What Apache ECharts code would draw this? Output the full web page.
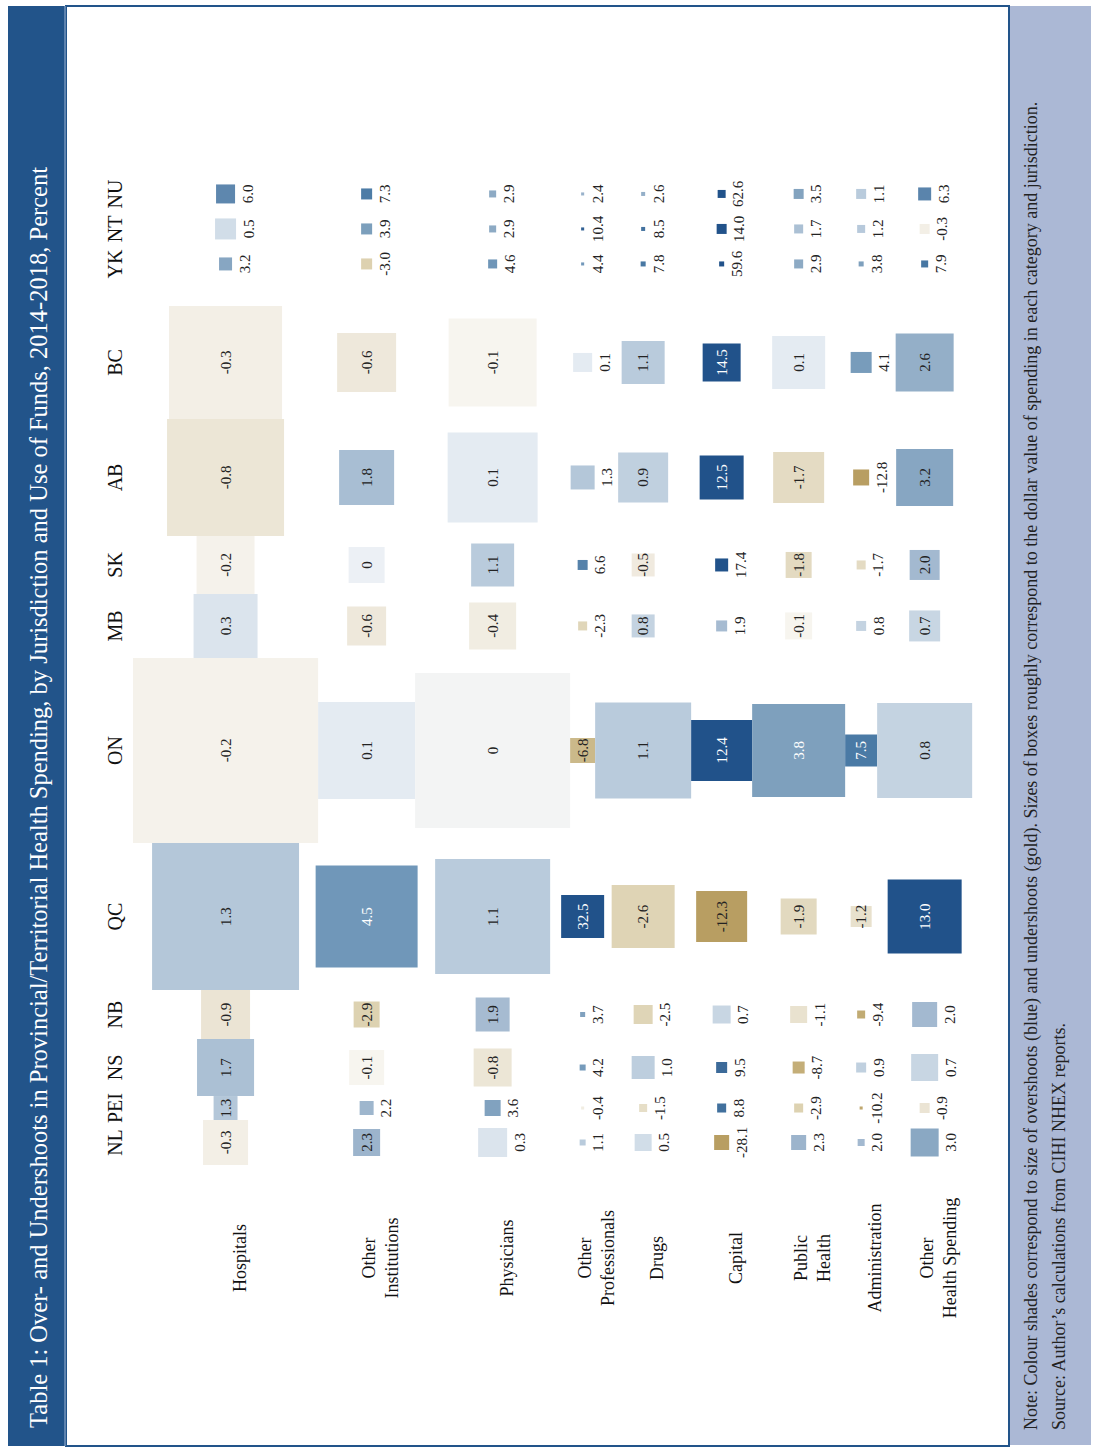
<!DOCTYPE html>
<html>
<head>
<meta charset="utf-8">
<title>Over- and Undershoots in Provincial/Territorial Health Spending</title>
<script src="https://cdn.jsdelivr.net/npm/echarts@6/dist/echarts.min.js"></script>
<style>
  html, body { margin: 0; padding: 0; background: #fff; }
  body { width: 1098px; height: 1452px; overflow: hidden; position: relative; }
  /* the table is laid out landscape and turned a quarter turn to the left */
  #chart {
    position: absolute; left: 0; top: 0;
    width: 1452px; height: 1098px;
    transform-origin: 0 0;
    transform: translate(0, 1452px) rotate(-90deg);
  }
</style>
</head>
<body>
<div id="chart"></div>
<script>
const jurisdictions = ['NL', 'PEI', 'NS', 'NB', 'QC', 'ON', 'MB', 'SK', 'AB', 'BC', 'YK', 'NT', 'NU']
const territories = ['YK', 'NT', 'NU']
const categories = ['Hospitals', 'Other\nInstitutions', 'Physicians', 'Other\nProfessionals', 'Drugs',
  'Capital', 'Public\nHealth', 'Administration', 'Other\nHealth Spending']

// over- (+) / undershoot (-), percent, in jurisdiction order
const pctHospitals = [-0.3, 1.3, 1.7, -0.9, 1.3, -0.2, 0.3, -0.2, -0.8, -0.3, 3.2, 0.5, 6.0]
const pctOtherInst = [2.3, 2.2, -0.1, -2.9, 4.5, 0.1, -0.6, 0.04, 1.8, -0.6, -3.0, 3.9, 7.3]
const pctPhysicians = [0.3, 3.6, -0.8, 1.9, 1.1, -0.04, -0.4, 1.1, 0.1, -0.1, 4.6, 2.9, 2.9]
const pctOtherProf = [1.1, -0.4, 4.2, 3.7, 32.5, -6.8, -2.3, 6.6, 1.3, 0.1, 4.4, 10.4, 2.4]
const pctDrugs = [0.5, -1.5, 1.0, -2.5, -2.6, 1.1, 0.8, -0.5, 0.9, 1.1, 7.8, 8.5, 2.6]
const pctCapital = [-28.1, 8.8, 9.5, 0.7, -12.3, 12.4, 1.9, 17.4, 12.5, 14.5, 59.6, 14.0, 62.6]
const pctPublicHealth = [2.3, -2.9, -8.7, -1.1, -1.9, 3.8, -0.1, -1.8, -1.7, 0.1, 2.9, 1.7, 3.5]
const pctAdmin = [2.0, -10.2, 0.9, -9.4, -1.2, 7.5, 0.8, -1.7, -12.8, 4.1, 3.8, 1.2, 1.1]
const pctOtherHealth = [3.0, -0.9, 0.7, 2.0, 13.0, 0.8, 0.7, 2.0, 3.2, 2.6, 7.9, -0.3, 6.3]

// approximate spending, $ millions (box area follows it)
const spendHospitals = [1520, 430, 2440, 1800, 16200, 25700, 3070, 2520, 10270, 9580, 127, 331, 271]
const spendOtherInst = [547, 147, 919, 507, 7800, 7060, 1140, 972, 2270, 2610, 91, 91, 91]
const spendPhysicians = [631, 192, 1083, 867, 9920, 18020, 1657, 1387, 6075, 5808, 61, 37, 37]
const spendOtherProf = [27, 7, 27, 19, 1387, 469, 61, 75, 432, 271, 7, 7, 7]
const spendDrugs = [217, 48, 397, 271, 2977, 6912, 397, 397, 1875, 1387, 19, 12, 12]
const spendCapital = [169, 61, 91, 243, 1951, 2791, 91, 127, 1452, 1083, 19, 75, 48]
const spendPublicHealth = [169, 61, 108, 217, 972, 6487, 547, 507, 1951, 2107, 61, 61, 75]
const spendAdmin = [37, 7, 75, 48, 331, 768, 75, 61, 192, 331, 19, 48, 75]
const spendOtherHealth = [588, 75, 547, 469, 4107, 6769, 721, 675, 2437, 2523, 37, 75, 127]

const pct = [pctHospitals, pctOtherInst, pctPhysicians, pctOtherProf, pctDrugs,
  pctCapital, pctPublicHealth, pctAdmin, pctOtherHealth]
const spend = [spendHospitals, spendOtherInst, spendPhysicians, spendOtherProf, spendDrugs,
  spendCapital, spendPublicHealth, spendAdmin, spendOtherHealth]

const title = 'Table 1: Over- and Undershoots in Provincial/Territorial Health Spending, by Jurisdiction and Use of Funds, 2014-2018, Percent'
const note = 'Note: Colour shades correspond to size of overshoots (blue) and undershoots (gold). Sizes of boxes roughly correspond to the dollar value of spending in each category and jurisdiction.'
const source = 'Source: Author\u2019s calculations from CIHI NHEX reports.'

const FONT = "'Liberation Serif', 'DejaVu Serif', serif"
const PX_PER_MILLION = 0.75 // box area: $0.75M per square pixel
const sideOf = (s) => Math.sqrt(s / PX_PER_MILLION)

// shade scale: gold for undershoots, blue for overshoots
const shadeStops = [
  [-12, '#b89e62'], [-8.7, '#c4ae78'], [-6.8, '#cbb98a'], [-2.9, '#ddd2b1'], [-1.9, '#e2d9bf'],
  [-1.1, '#e9e2cf'], [-0.6, '#eee8db'], [-0.3, '#f3efe6'], [-0.1, '#f7f5ef'], [0, '#f1f4f7'],
  [0.1, '#e4ebf2'], [0.3, '#dbe4ed'], [0.5, '#d1dde8'], [0.8, '#c4d3e1'], [1.1, '#b9cbdc'],
  [1.7, '#abc0d4'], [2.0, '#a3b9d0'], [3.0, '#8aa8c3'], [3.8, '#7ea0bd'], [4.5, '#7097b9'],
  [6.0, '#5e87ae'], [7.5, '#4a7aa5'], [9.5, '#3c6a99'], [12, '#21528a'],
]
function shade (v) {
  if (v <= shadeStops[0][0]) return shadeStops[0][1]
  for (let i = 1; i < shadeStops.length; i++) {
    const [a, ca] = shadeStops[i - 1]
    const [b, cb] = shadeStops[i]
    if (v <= b) return echarts.color.lerp((v - a) / (b - a), [ca, cb])
  }
  return shadeStops[shadeStops.length - 1][1]
}
const fmt = (v) => (Math.abs(v) < 0.05 ? '0' : v.toFixed(1))

// label goes inside the box when it fits, with a few hand exceptions
const LABEL_MIN_SIDE = 22
const labelOutside = ['NL-2', 'NL-8', 'NB-8', 'NS-8', 'NS-4', 'AB-3']
const labelInside = ['QC-7']

// rows: provinces sit side by side, each as wide as its hospital box; territories at a fixed pitch
const rowPos = []
let edge = 287
jurisdictions.forEach((j, r) => {
  if (territories.includes(j)) return
  const w = sideOf(spendHospitals[r])
  rowPos[r] = edge + w / 2
  edge += w
})
let tPos = edge + 42
jurisdictions.forEach((j, r) => {
  if (!territories.includes(j)) return
  rowPos[r] = tPos
  tPos += 35
})

// columns: stacked on the Ontario boxes
const onIdx = jurisdictions.indexOf('ON')
const colPos = []
let colEdge = 133
spend.forEach((arr, c) => {
  const h = sideOf(arr[onIdx])
  colPos[c] = colEdge + h / 2
  colEdge += h
})

const cells = []
jurisdictions.forEach((j, r) => {
  categories.forEach((cat, c) => {
    cells.push([rowPos[r], colPos[c], pct[c][r], spend[c][r], r, c])
  })
})

const myChart = echarts.init(document.getElementById('chart'), null, { renderer: 'svg' })

const option = {
  animation: false,
  grid: { left: 0, right: 0, top: 0, bottom: 0 },
  xAxis: { type: 'value', min: 0, max: 1452, show: false },
  yAxis: { type: 'value', min: 0, max: 1098, inverse: true, show: false },
  graphic: [
    { type: 'rect', z: 0, shape: { x: 6, y: 8, width: 1440, height: 58 }, style: { fill: '#22548a' } },
    { type: 'line', z: 1, shape: { x1: 6, y1: 65, x2: 1446, y2: 65 }, style: { stroke: '#9bb2d2', lineWidth: 1 } },
    { type: 'rect', z: 0, shape: { x: 6, y: 66, width: 1440, height: 943 }, style: { fill: 'none', stroke: '#22548a', lineWidth: 2 } },
    { type: 'rect', z: 0, shape: { x: 7, y: 1010, width: 1439, height: 81 }, style: { fill: '#abb8d5' } },
    { type: 'text', z: 1, x: 24, y: 38, style: { text: title, fill: '#fff', font: '24.5px ' + FONT, verticalAlign: 'middle' } },
    { type: 'text', z: 1, x: 22, y: 1031, style: { text: note, fill: '#222', font: '18px ' + FONT, verticalAlign: 'middle' } },
    { type: 'text', z: 1, x: 22, y: 1059, style: { text: source, fill: '#222', font: '18px ' + FONT, verticalAlign: 'middle' } },
  ],
  series: [
    {
      name: 'cells',
      type: 'custom',
      z: 10,
      data: cells,
      renderItem: function (params, api) {
        const p = api.coord([api.value(0), api.value(1)])
        const v = api.value(2)
        const side = api.size([sideOf(api.value(3)), 0])[0]
        const key = jurisdictions[api.value(4)] + '-' + api.value(5)
        let inside = side >= LABEL_MIN_SIDE
        if (labelOutside.includes(key)) inside = false
        if (labelInside.includes(key)) inside = true
        return {
          type: 'group',
          children: [{
            type: 'rect',
            shape: { x: p[0] - side / 2, y: p[1] - side / 2, width: side, height: side },
            style: { fill: shade(v) },
          }, {
            type: 'text',
            x: p[0],
            y: inside ? p[1] : p[1] + Math.max(side / 2, 3) + 5,
            style: {
              text: fmt(v),
              fill: inside && v >= 3.5 ? '#fff' : '#222',
              font: '15px ' + FONT,
              align: 'center',
              verticalAlign: inside ? 'middle' : 'top',
            },
          }],
        }
      },
    },
    {
      name: 'jurisdictions',
      type: 'custom',
      z: 10,
      data: jurisdictions.map((j, r) => [rowPos[r], 115]),
      renderItem: function (params, api) {
        const p = api.coord([api.value(0), api.value(1)])
        return {
          type: 'text', x: p[0], y: p[1],
          style: { text: jurisdictions[params.dataIndex], fill: '#111', font: '20px ' + FONT, align: 'center', verticalAlign: 'middle' },
        }
      },
    },
    {
      name: 'categories',
      type: 'custom',
      z: 10,
      data: categories.map((cat, c) => [194, colPos[c] + 14]),
      renderItem: function (params, api) {
        const p = api.coord([api.value(0), api.value(1)])
        return {
          type: 'text', x: p[0], y: p[1],
          style: { text: categories[params.dataIndex], fill: '#111', font: '18px ' + FONT, lineHeight: 23, align: 'center', verticalAlign: 'middle' },
        }
      },
    },
  ],
}

myChart.setOption(option)
</script>
</body>
</html>
